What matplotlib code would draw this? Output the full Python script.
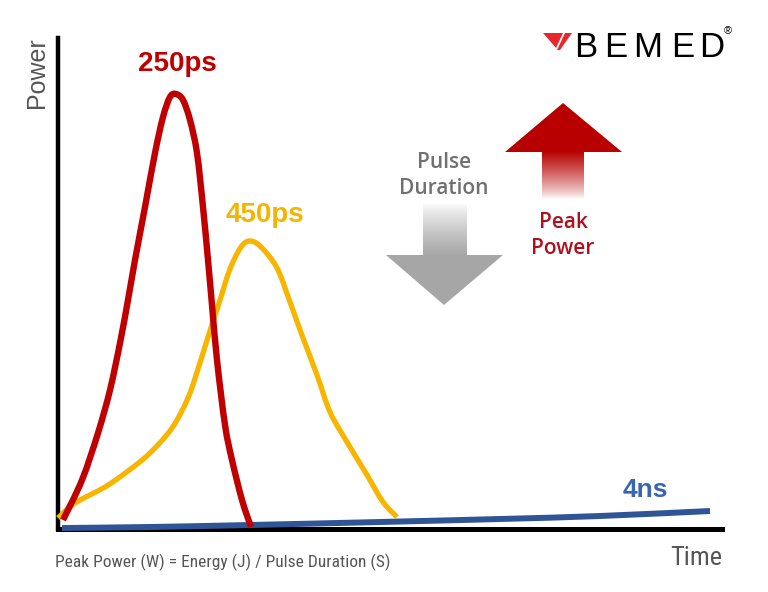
import numpy as np
import matplotlib
matplotlib.use("Agg")
import matplotlib.pyplot as plt
from matplotlib import font_manager
from matplotlib.patches import Polygon, PathPatch
from matplotlib.path import Path

# ---------------- data (time / power, arbitrary units) ----
t_250ps = [5, 24, 40, 52, 62, 70, 77, 87, 97, 105, 112, 118, 125, 132, 139,
           145, 150, 154, 159, 167, 174, 184, 193]
p_250ps = [9, 49, 96, 139, 186, 229, 269, 322, 376, 412, 432, 435, 429, 409,
           376, 322, 269, 224, 169, 104, 69, 29, 2]

t_450ps = [0, 17, 47, 70, 92, 114, 130, 140, 150, 162, 172, 183, 192, 203,
           219, 232, 245, 259, 272, 289, 309, 325, 339]
p_450ps = [11, 26, 42, 58, 76, 101, 131, 160, 192, 229, 260, 282, 288, 282,
           261, 227, 191, 154, 117, 87, 54, 27, 12]

t_4ns = [4, 92, 192, 322, 442, 542, 652]
p_4ns = [1, 2, 4, 7, 10, 13, 18]

series_labels = ["250ps", "450ps", "4ns"]
series_colors = ["#c00000", "#f7b500", "#2f5597"]
label_colors = ["#c00000", "#f5b400", "#3a64b4"]

# ---------------- fonts ------------------------------------------------------
available = {f.name for f in font_manager.fontManager.ttflist}
def pick(*names):
    for n in names:
        if n in available:
            return n
    return None

SANS = pick("Liberation Sans", "Arial") or "DejaVu Sans"
NARROW = pick("Liberation Sans Narrow", "Arial Narrow", "Roboto Condensed",
              "DejaVu Sans Condensed")
OPEN = pick("Open Sans", "Noto Sans") or "DejaVu Sans"

W, H = 768, 592
fig = plt.figure(figsize=(W / 100, H / 100), dpi=100, facecolor="white")

# main axes: pixel box x 58..722, y 38..529
x0, x1, ytop, ybot = 58, 722, 38, 529
ax = fig.add_axes([x0 / W, (H - ybot) / H, (x1 - x0) / W, (ybot - ytop) / H])
ax.set_xlim(0, x1 - x0)
ax.set_ylim(0, ybot - ytop)
for s in ["top", "right"]:
    ax.spines[s].set_visible(False)
ax.spines["left"].set_linewidth(3.2)
ax.spines["bottom"].set_linewidth(3.6)
ax.spines["left"].set_color("black")
ax.spines["bottom"].set_color("black")
ax.set_xticks([])
ax.set_yticks([])


def smooth_line(axis, xs, ys, **kw):
    """Draw a smooth (Catmull-Rom as cubic Bezier) curve through the points."""
    P = np.column_stack([xs, ys]).astype(float)
    n = len(P)
    verts = [P[0]]
    codes = [Path.MOVETO]
    for i in range(n - 1):
        p0 = P[i - 1] if i > 0 else P[i]
        p1 = P[i]
        p2 = P[i + 1]
        p3 = P[i + 2] if i + 2 < n else P[i + 1]
        c1 = p1 + (p2 - p0) / 6.0
        c2 = p2 - (p3 - p1) / 6.0
        verts += [c1, c2, p2]
        codes += [Path.CURVE4] * 3
    patch = PathPatch(Path(verts, codes), fill=False, capstyle="butt",
                      joinstyle="round", clip_on=False, **kw)
    axis.add_patch(patch)
    return patch


smooth_line(ax, t_4ns, p_4ns, edgecolor=series_colors[2], lw=4.3, zorder=3)
smooth_line(ax, t_450ps, p_450ps, edgecolor=series_colors[1], lw=3.8, zorder=4)
smooth_line(ax, t_250ps, p_250ps, edgecolor=series_colors[0], lw=4.6, zorder=5)

ax.text(119, 465, series_labels[0], color=label_colors[0], fontsize=20,
        fontweight="bold", family=SANS, ha="center", va="center")
ax.text(207, 314, series_labels[1], color=label_colors[1], fontsize=20,
        fontweight="bold", family=SANS, ha="center", va="center")
ax.text(587, 39, series_labels[2], color=label_colors[2], fontsize=19,
        fontweight="bold", family=SANS, ha="center", va="center")

# ---------------- overlay (pixel coordinates) -------------------------------
ov = fig.add_axes([0, 0, 1, 1], zorder=10)
ov.set_facecolor("none")
ov.axis("off")

# axis titles
ov.text(37, 37, "Power", rotation=90, color="#555555", fontsize=18,
        family=SANS, ha="center", va="top")
if NARROW:
    ov.text(722, 558, "Time", color="#555555", fontsize=19, family=NARROW,
            ha="right", va="center")
    ov.text(55, 562, "Peak Power (W) = Energy (J) / Pulse Duration (S)",
            color="#555555", fontsize=12.5, family=NARROW, ha="left",
            va="center")
else:
    ov.text(722, 558, "Time", color="#555555", fontsize=17, family=SANS,
            ha="right", va="center")
    ov.text(55, 562, "Peak Power (W) = Energy (J) / Pulse Duration (S)",
            color="#555555", fontsize=11.4, family=SANS, ha="left",
            va="center")

# gray down arrow
N = 200
gray = np.array([0.65, 0.65, 0.65])
g = np.zeros((N, 1, 4))
g[:, 0, :3] = gray
g[:, 0, 3] = np.linspace(0.0, 1.0, N) ** 0.8
ov.imshow(g, extent=(423, 467, 256, 203), aspect="auto", origin="upper",
          interpolation="bilinear", zorder=2)
ov.add_patch(Polygon([(386, 255), (503, 255), (444, 305)], closed=True,
                     facecolor=gray, edgecolor="none", zorder=3))

# red up arrow
red = np.array([0.72, 0.0, 0.0])
r = np.zeros((N, 1, 4))
r[:, 0, :3] = red
r[:, 0, 3] = np.linspace(1.0, 0.0, N) ** 0.8
ov.imshow(r, extent=(542, 584, 199, 151), aspect="auto", origin="upper",
          interpolation="bilinear", zorder=2)
ov.add_patch(Polygon([(505, 152), (622, 152), (563, 103)], closed=True,
                     facecolor=red, edgecolor="none", zorder=3))
ov.set_xlim(0, W)
ov.set_ylim(H, 0)

ov.text(444, 162, "Pulse", color="#707070", fontsize=15, family=OPEN,
        fontweight="semibold", ha="center", va="center")
ov.text(444, 188, "Duration", color="#707070", fontsize=15, family=OPEN,
        fontweight="semibold", ha="center", va="center")
ov.text(563, 222, "Peak", color="#b0101e", fontsize=15, family=OPEN,
        fontweight="semibold", ha="center", va="center")
ov.text(563, 248, "Power", color="#b0101e", fontsize=15, family=OPEN,
        fontweight="semibold", ha="center", va="center")

# logo
ov.add_patch(Polygon([(543, 33), (563, 33), (556, 48)], closed=True,
                     facecolor="#e8262c", edgecolor="none"))
ov.add_patch(Polygon([(565, 33), (572, 33), (560, 50), (557, 50)], closed=True,
                     facecolor="#e8262c", edgecolor="none"))
logo_letters = ["B", "E", "M", "E", "D"]
logo_cx = [585.5, 616, 647.5, 682.5, 711.5]
for ch, lx in zip(logo_letters, logo_cx):
    ov.text(lx, 57, ch, color="black", fontsize=25, family=SANS,
            ha="center", va="baseline")
ov.text(728, 31, "®", color="black", fontsize=8, family=SANS,
        ha="center", va="center")

fig.savefig("out.png", dpi=100, facecolor="white")
